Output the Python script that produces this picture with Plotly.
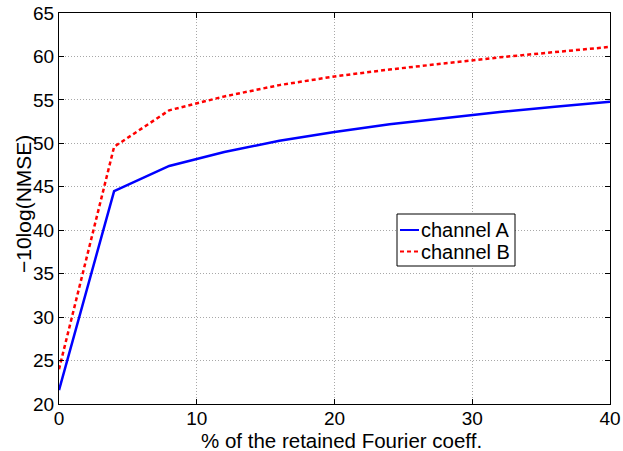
import plotly.graph_objects as go

x_pct = [0, 4, 8, 12, 16, 20, 24, 28, 32, 36, 40]
channel_a = [21.6, 44.5, 47.4, 49.0, 50.3, 51.3, 52.2, 52.9, 53.6, 54.2, 54.8]
channel_b = [24.0, 49.6, 53.8, 55.4, 56.7, 57.7, 58.5, 59.2, 59.9, 60.5, 61.1]
series_names = ["channel A", "channel B"]
series_colors = ["#0000ff", "#ff0000"]
series_dash = ["solid", "4px,3px"]
x_ticks = [0, 10, 20, 30, 40]
y_ticks = [20, 25, 30, 35, 40, 45, 50, 55, 60, 65]
x_title = "% of the retained Fourier coeff."
y_title = "\u221210log(NMSE)"

FONT = "Liberation Sans, Arial, Helvetica, sans-serif"
LW = 2.5

fig = go.Figure()
for ys, nm, col, dsh in zip([channel_a, channel_b], series_names, series_colors, series_dash):
    fig.add_trace(go.Scatter(x=x_pct, y=ys, mode="lines", name=nm, showlegend=False,
                             line=dict(color=col, width=LW, dash=dsh)))

axis_common = dict(
    showline=True, linecolor="black", linewidth=1, mirror="ticks",
    ticks="inside", ticklen=5, tickcolor="black", tickwidth=1,
    showgrid=True, gridcolor="#a8a8a8", griddash="1px,2px", gridwidth=1,
    zeroline=False, automargin=False,
    tickfont=dict(family=FONT, size=19, color="black"),
)

fig.update_xaxes(range=[0, 40], tickvals=x_ticks, ticklabelstandoff=-3, **axis_common)
fig.update_yaxes(range=[20, 65], tickvals=y_ticks, **axis_common)

# plot-area pixel frame (matches margins) used to place titles and the legend box
L, R, T, B = 59, 610, 13, 404
def px(v):
    return (v - L) / (R - L)
def py(v):
    return (B - v) / (B - T)

annotations = [
    dict(xref="paper", yref="paper", x=px(341), y=py(440), xanchor="center", yanchor="middle",
         showarrow=False, text=x_title, font=dict(family=FONT, size=20.5, color="black"),
         borderpad=0),
    dict(xref="paper", yref="paper", x=px(23), y=py(204), xanchor="center", yanchor="middle",
         showarrow=False, text=y_title, textangle=-90,
         font=dict(family=FONT, size=21, color="black"), borderpad=0),
]

shapes = [dict(type="rect", xref="paper", yref="paper",
               x0=px(397), x1=px(515), y0=py(266), y1=py(214),
               line=dict(color="black", width=1), fillcolor="white", layer="above")]
row_y = [230, 251.5]
for nm, col, dsh, ry in zip(series_names, series_colors, series_dash, row_y):
    shapes.append(dict(type="line", xref="paper", yref="paper",
                       x0=px(400), x1=px(419), y0=py(ry), y1=py(ry),
                       line=dict(color=col, width=2, dash=dsh),
                       layer="above"))
    annotations.append(dict(xref="paper", yref="paper", x=px(420), y=py(ry),
                            xanchor="left", yanchor="middle", showarrow=False,
                            text=nm, font=dict(family=FONT, size=20, color="black"),
                            borderpad=0))

fig.update_layout(
    width=623, height=451,
    margin=dict(l=59, r=13, t=13, b=47, autoexpand=False),
    paper_bgcolor="white", plot_bgcolor="white",
    shapes=shapes, annotations=annotations,
    showlegend=False,
)

fig.write_html("out.html")
